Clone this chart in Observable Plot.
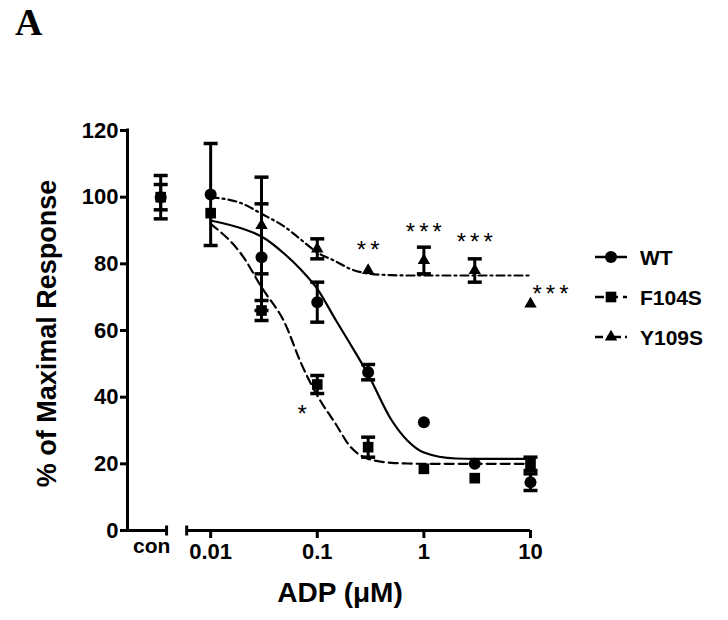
<!DOCTYPE html>
<html><head><meta charset="utf-8">
<script src="https://cdn.jsdelivr.net/npm/d3@7"></script>
<script src="https://cdn.jsdelivr.net/npm/@observablehq/plot@0.6"></script>
<style>
body{margin:0;background:#fff;}
#wrap{position:relative;width:728px;height:620px;font-family:"Liberation Sans",Arial,sans-serif;}
#panel{position:absolute;left:15px;top:0px;font:bold 38px "Liberation Serif","Times New Roman",serif;}
#chart{position:absolute;left:0;top:0;}
#legend{position:absolute;left:0;top:0;}
</style></head><body><div id="wrap"><div id="chart"></div><svg id="legend" width="728" height="620"></svg><div id="panel">A</div></div>
<script>
// ---- data ----
const doses = ["con", 0.01, 0.03, 0.1, 0.3, 1, 3, 10];
const wtMean    = [100, 100.8, 82, 68.5, 47.5, 32.5, 20, 14.5];
const wtErr     = [6.5, 15.3, 16, 6, 2.3, 0, 0, 2.5];
const f104sMean = [100, 95.2, 66, 43.8, 25, 18.5, 15.7, 20];
const f104sErr  = [3.8, 0, 3, 2.7, 3, 0, 0, 2];
const y109sMean = [null, null, 91.5, 84.5, 78, 81, 78, 68];
const y109sErr  = [null, null, 14.5, 3, 0, 4, 3.5, 0];

const fitDoses = [0.01, 0.02, 0.03, 0.05, 0.07, 0.1, 0.15, 0.2, 0.3, 0.5, 0.7, 1, 2, 3, 5, 10];
const wtFit    = [93, 90.5, 88.2, 82.8, 78.3, 72.5, 63, 56.4, 46.8, 33, 27, 23.4, 21.6, 21.5, 21.5, 21.5];
const f104sFit = [92, 82.3, 73, 62, 50.4, 40.5, 31.8, 25.5, 21.5, 20.3, 20.1, 20, 20, 20, 20, 20];
const y109sFit = [100, 98, 95, 91, 87.3, 83.4, 80.7, 78.6, 77.1, 76.6, 76.5, 76.5, 76.5, 76.5, 76.5, 76.5];

const starDoses  = [0.1, 0.3, 1, 3, 10];
const starLabels = ["*", "**", "***", "***", "***"];
const starLevel  = [35, 84, 89.5, 86.5, 71];

const seriesNames = ["WT", "F104S", "Y109S"];
const yTicks = [0, 20, 40, 60, 80, 100, 120];
const xTicks = [0.01, 0.1, 1, 10];
const xLabel = "ADP (\u03BCM)";
const yLabel = "% of Maximal Response";

// ---- layout (not data) ----
const conX = 0.0034;              // where "con" sits on the broken log axis
const xMin = 0.00166;
const axisSegments = [{from: xMin, to: 0.00386}, {from: 0.00596, to: 10}];
const breakEnds = [0.00386, 0.00596];
const starDx = [-15, 0, 0, 0, 20];

function rows(name, means, errs) {
  return doses.map((d, i) => ({series: name, x: d === "con" ? conX : d, y: means[i], e: errs[i]}))
    .filter(r => r.y != null);
}
function fitRows(name, vals) { return fitDoses.map((d, i) => ({series: name, x: d, y: vals[i]})); }

const pts = {WT: rows("WT", wtMean, wtErr), F104S: rows("F104S", f104sMean, f104sErr), Y109S: rows("Y109S", y109sMean, y109sErr)};
const fits = {WT: fitRows("WT", wtFit), F104S: fitRows("F104S", f104sFit), Y109S: fitRows("Y109S", y109sFit)};
const bars = [...pts.WT, ...pts.F104S, ...pts.Y109S].filter(r => r.e > 0);
const stars = starDoses.map((d, i) => ({x: d, y: starLevel[i], label: starLabels[i]}));

const hbar = {draw(ctx, size) { const w = Math.sqrt(size / Math.PI); ctx.moveTo(-w, 0); ctx.lineTo(w, 0); }};
const vbar = {draw(ctx, size) { const w = Math.sqrt(size / Math.PI); ctx.moveTo(0, -w); ctx.lineTo(0, w); }};

const dash = {WT: null, F104S: "9,5", Y109S: "8,4,2,4"};
const sym = {WT: "circle", F104S: "square", Y109S: "triangle"};
const symR = {WT: 6, F104S: 6, Y109S: 4.6};
const font = "Liberation Sans, Arial, sans-serif";

const marks = [
  Plot.ruleX([xMin], {y1: 0, y2: 120, strokeWidth: 3, strokeLinecap: "square"}),
  Plot.ruleY(axisSegments, {x1: "from", x2: "to", y: () => 0, strokeWidth: 3}),
  Plot.dot(breakEnds, {x: d => d, y: () => 0, symbol: vbar, r: 5, stroke: "black", strokeWidth: 3}),
  Plot.axisY({ticks: yTicks, label: null, tickSize: 7, tickPadding: 2, strokeWidth: 3, fontSize: 22, fontWeight: "bold", fontFamily: font}),
  Plot.axisX({ticks: xTicks, label: null, tickFormat: d => String(d), tickSize: 8, tickPadding: 5, strokeWidth: 3, fontSize: 22, fontWeight: "bold", fontFamily: font}),
  Plot.text(["con"], {x: () => conX, frameAnchor: "bottom", dy: 22, dx: -9, text: d => d, fontSize: 21, fontWeight: "bold", fontFamily: font}),
  Plot.text([xLabel], {frameAnchor: "bottom", lineAnchor: "middle", textAnchor: "middle", dy: 63, dx: 11, text: d => d, fontSize: 28, fontWeight: "bold", fontFamily: font}),
  Plot.text([yLabel], {frameAnchor: "left", lineAnchor: "middle", textAnchor: "middle", dx: -80, dy: 3, rotate: -90, text: d => d, fontSize: 27, fontWeight: "bold", fontFamily: font})
];
for (const s of seriesNames) {
  marks.push(Plot.line(fits[s], {x: "x", y: "y", curve: "monotone-x", stroke: "black", strokeWidth: 2.2, strokeDasharray: dash[s]}));
}
marks.push(Plot.ruleX(bars, {x: "x", y1: d => d.y - d.e, y2: d => d.y + d.e, strokeWidth: 3}));
marks.push(Plot.dot(bars, {x: "x", y: d => d.y - d.e, symbol: hbar, r: 7, stroke: "black", strokeWidth: 3.5}));
marks.push(Plot.dot(bars, {x: "x", y: d => d.y + d.e, symbol: hbar, r: 7, stroke: "black", strokeWidth: 3.5}));
for (const s of seriesNames) {
  marks.push(Plot.dot(pts[s], {x: "x", y: "y", symbol: sym[s], r: symR[s], fill: "black", stroke: "none"}));
}
stars.forEach((st, i) => {
  marks.push(Plot.text([st], {x: "x", y: "y", text: "label", dx: starDx[i], fontSize: 24, fontWeight: "normal", fontFamily: font, className: "stars"}));
});

const chart = Plot.plot({
  width: 728, height: 620,
  marginTop: 130, marginBottom: 90, marginLeft: 127, marginRight: 198,
  x: {type: "log", domain: [xMin, 10], axis: null},
  y: {domain: [0, 120], axis: null},
  style: {fontFamily: font, color: "black", background: "white", overflow: "visible"},
  marks
});
document.getElementById("chart").append(chart);
// widen the asterisk spacing as in the reference
d3.select(chart).selectAll(".stars text").attr("letter-spacing", "4px").attr("dx", function() {
  const cur = parseFloat(this.getAttribute("dx") || 0); return cur + 2;
});

// legend
const lg = d3.select("#legend");
const legendY = {WT: 257, F104S: 297, Y109S: 337};
for (const s of seriesNames) {
  const y = legendY[s];
  lg.append("line").attr("x1", 595).attr("x2", 627).attr("y1", y).attr("y2", y)
    .attr("stroke", "black").attr("stroke-width", 2.5).attr("stroke-dasharray", dash[s]);
  const st = {circle: d3.symbolCircle, square: d3.symbolSquare, triangle: d3.symbolTriangle}[sym[s]];
  lg.append("path").attr("d", d3.symbol(st, Math.PI * symR[s] * symR[s])()).attr("transform", `translate(611,${y})`).attr("fill", "black");
  lg.append("text").attr("x", 640).attr("y", y).attr("dy", "0.36em").text(s)
    .attr("font-family", font).attr("font-weight", "bold").attr("font-size", 21);
}
</script></body></html>
